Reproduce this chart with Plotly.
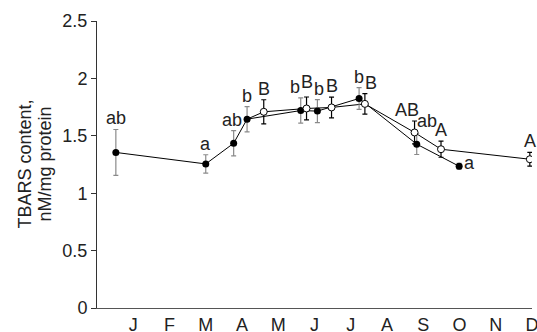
import plotly.graph_objects as go

months = ["J", "F", "M", "A", "M", "J", "J", "A", "S", "O", "N", "D"]
month_pos = [1, 2, 3, 4, 5, 6, 7, 8, 9, 10, 11, 12]

# filled series (x in months)
fx = [0.52, 3.00, 3.77, 4.14, 5.62, 6.08, 7.23, 8.82, 9.99]
fy = [1.355, 1.255, 1.435, 1.645, 1.72, 1.715, 1.825, 1.427, 1.235]
fe = [0.20, 0.08, 0.11, 0.11, 0.11, 0.10, 0.095, 0.09, 0.025]
flab = ["ab", "a", "ab", "b", "b", "b", "b", "ab", "a"]

# open series
ox = [4.60, 5.78, 6.47, 7.39, 8.76, 9.49, 11.94]
oy = [1.709, 1.738, 1.747, 1.778, 1.529, 1.383, 1.296]
oe = [0.105, 0.10, 0.09, 0.09, 0.10, 0.07, 0.06]
olab = ["B", "B", "B", "B", "AB", "A", "A"]
open_start = 3  # open series line starts from this filled point

FONT = "Liberation Sans, Arial, sans-serif"
TXT = "#222"

fig = go.Figure()
fig.add_trace(go.Scatter(
    x=[fx[open_start]] + ox, y=[fy[open_start]] + oy, mode="lines",
    line=dict(color="black", width=1), showlegend=False, hoverinfo="skip"))
fig.add_trace(go.Scatter(
    x=fx, y=fy, mode="lines+markers",
    line=dict(color="black", width=1),
    marker=dict(color="black", size=7, line=dict(width=0)),
    error_y=dict(type="data", array=fe, color="#8a8a8a", thickness=1.2, width=2.5),
    showlegend=False))
fig.add_trace(go.Scatter(
    x=ox, y=oy, mode="markers",
    marker=dict(color="white", size=7, line=dict(color="black", width=1)),
    error_y=dict(type="data", array=oe, color="black", thickness=1.2, width=2.5),
    showlegend=False))

# label placement offsets (px)
f_off = [(0, -1), (0, -1), (-2, -1), (0, -1), (-6, -1), (2, -1), (0, -1), (10, 1), None]
o_off = [(0, -1), (0, 3), (0, -1), (6, -1), (-8, -1), (0, -1), (0, -1)]

ann = []
for i, t in enumerate(flab):
    if f_off[i] is None:
        ann.append(dict(x=fx[i], y=fy[i], text=t, showarrow=False, xanchor="left",
                        yanchor="middle", xshift=3, yshift=3,
                        font=dict(family=FONT, size=18, color=TXT)))
    else:
        dx, dy = f_off[i]
        ann.append(dict(x=fx[i], y=fy[i] + fe[i], text=t, showarrow=False,
                        xanchor="center", yanchor="bottom", xshift=dx, yshift=dy,
                        font=dict(family=FONT, size=18, color=TXT)))
for i, t in enumerate(olab):
    dx, dy = o_off[i]
    ann.append(dict(x=ox[i], y=oy[i] + oe[i], text=t, showarrow=False,
                    xanchor="center", yanchor="bottom", xshift=dx, yshift=dy,
                    font=dict(family=FONT, size=18, color=TXT)))

ytitle = ["TBARS content,", "nM/mg protein"]
for j, (t, px) in enumerate(zip(ytitle, [24, 44])):
    ann.append(dict(xref="paper", yref="paper", x=(px - 97) / 435, y=0.5,
                    text=t, textangle=-90, showarrow=False,
                    xanchor="center", yanchor="middle",
                    font=dict(family=FONT, size=18, color=TXT)))

fig.update_layout(
    width=537, height=332,
    margin=dict(l=97, r=5, t=21, b=24, pad=0),
    paper_bgcolor="white", plot_bgcolor="white",
    font=dict(family=FONT, size=18, color=TXT),
    annotations=ann,
    xaxis=dict(range=[0, 12], tickvals=month_pos, ticktext=months,
               showgrid=False, zeroline=False, showline=True, automargin=False,
               ticklabeloverflow="allow",
               linecolor="#555", linewidth=1.2, ticks="", ticklen=0,
               tickfont=dict(family=FONT, size=18, color=TXT)),
    yaxis=dict(range=[0, 2.5], tickvals=[0, 0.5, 1, 1.5, 2, 2.5],
               ticktext=["0", "0.5", "1", "1.5", "2", "2.5"],
               showgrid=False, zeroline=False, showline=True, automargin=False,
               linecolor="#333", linewidth=1, ticks="outside", ticklen=5,
               tickcolor="#333", tickwidth=1,
               tickfont=dict(family=FONT, size=18, color=TXT)),
)
fig.write_html("out.html", config={"displayModeBar": False},
               post_script="document.body.style.margin='0';document.body.style.overflow='hidden';")
